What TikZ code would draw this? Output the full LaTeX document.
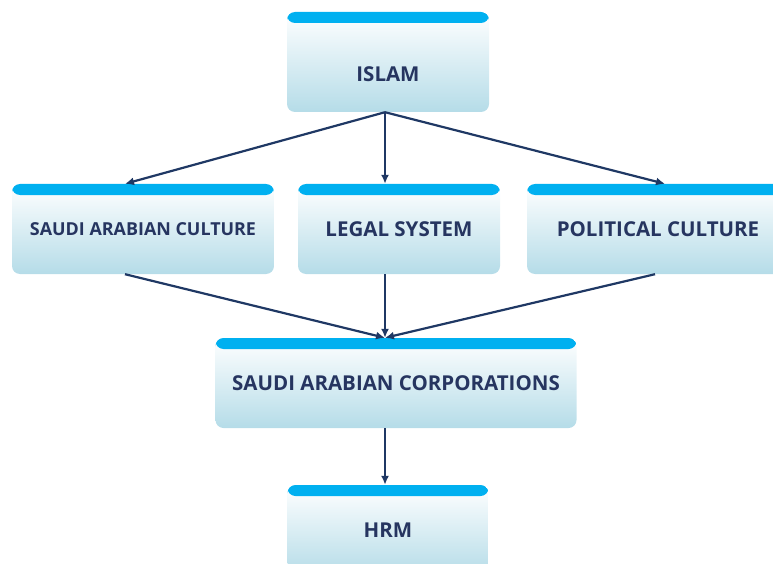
\documentclass[tikz,border=0pt]{standalone}
\usepackage{fontspec}
\setmainfont{Open Sans}
\usetikzlibrary{arrows.meta,calc}
\definecolor{bandblue}{HTML}{00B0F0}
\definecolor{bodyblue}{HTML}{B5DCE8}
\definecolor{linenavy}{HTML}{1F3864}
\definecolor{textnavy}{HTML}{263560}

\begin{document}
\begin{tikzpicture}[
 x=1pt,y=-1pt,
 box/.style={rounded corners=8pt,inner sep=0pt,top color=white,middle color=bodyblue!30,bottom color=bodyblue,
  text=textnavy,font=\bfseries\fontsize{20.5}{24}\selectfont,
  path picture={\fill[bandblue] (path picture bounding box.north west) rectangle ([yshift=-11pt]path picture bounding box.north east);}},
 smallbox/.style={box,font=\bfseries\fontsize{17.9}{21}\selectfont},
 arrow/.style={-{Latex[length=9pt,width=8pt]},line width=2.2pt,draw=linenavy}
]
\clip (0,0) rectangle (773,564);
\node[box,minimum width=202pt,minimum height=100pt,
  label={[text=textnavy,font=\bfseries\fontsize{20.5}{24}\selectfont,yshift=-12pt]center:ISLAM}] (islam) at (388,62) {};
\node[smallbox,minimum width=262pt,minimum height=90pt] (culture) at (143,229) {SAUDI ARABIAN CULTURE};
\node[box,minimum width=202pt,minimum height=90pt] (legal) at (399,229) {LEGAL SYSTEM};
\node[box,minimum width=262pt,minimum height=90pt] (political) at (658,229) {POLITICAL CULTURE};
\node[box,minimum width=361pt,minimum height=90pt] (corp) at (396,383) {SAUDI ARABIAN CORPORATIONS};
\node[box,minimum width=201pt,minimum height=90pt] (hrm) at (388,530) {HRM};
\draw[arrow] ([xshift=-3pt]islam.south) -- ([xshift=-18pt]culture.north);
\draw[arrow] ([xshift=-3pt]islam.south) -- ([xshift=-14pt]legal.north);
\draw[arrow] ([xshift=-3pt]islam.south) -- ([xshift=7pt]political.north);
\draw[arrow] ([xshift=-18pt]culture.south) -- ([xshift=-11pt]corp.north);
\draw[arrow] ([xshift=-14pt]legal.south) -- ([xshift=-11pt]corp.north);
\draw[arrow] ([xshift=-3pt]political.south) -- ([xshift=-11pt]corp.north);
\draw[arrow] ([xshift=-11pt]corp.south) -- ([xshift=-3pt]hrm.north);
\end{tikzpicture}
\end{document}
